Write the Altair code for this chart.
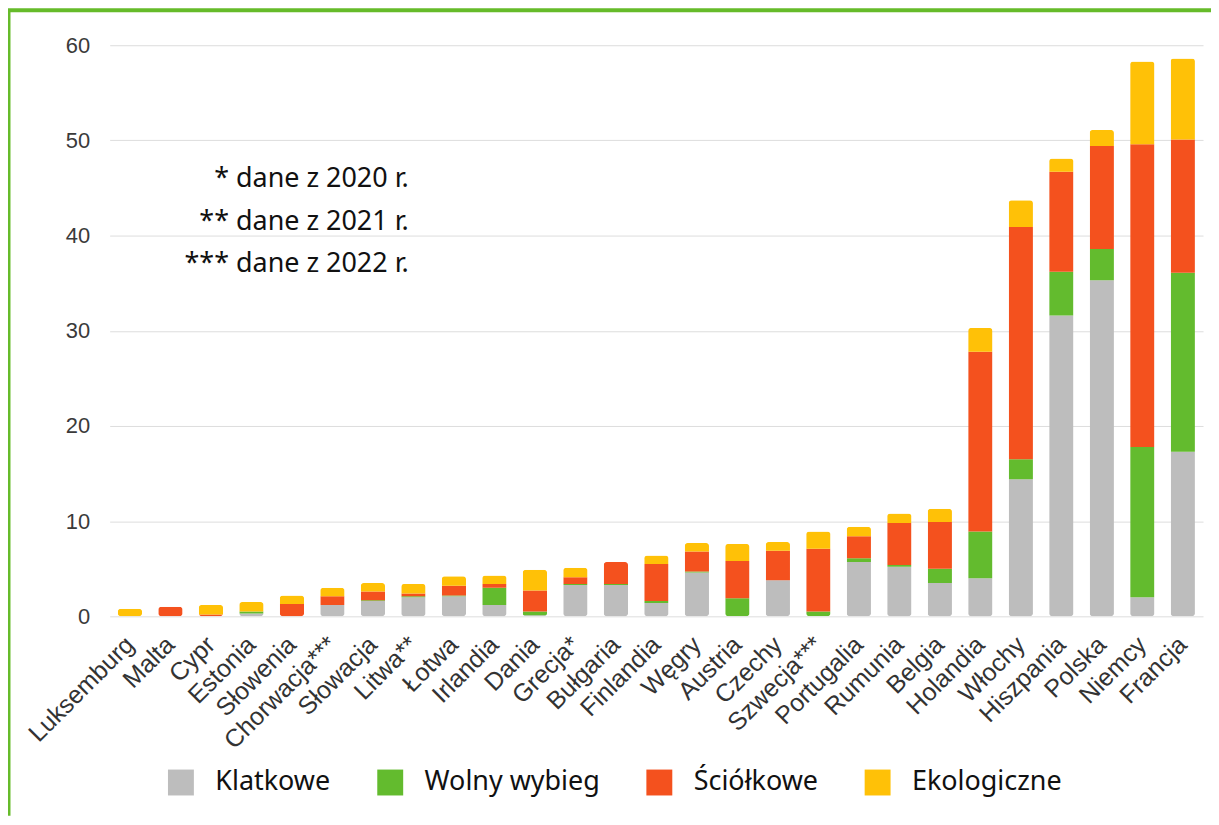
import altair as alt
import pandas as pd

countries = ["Luksemburg", "Malta", "Cypr", "Estonia", "Słowenia", "Chorwacja***",
             "Słowacja", "Litwa**", "Łotwa", "Irlandia", "Dania", "Grecja*", "Bułgaria",
             "Finlandia", "Węgry", "Austria", "Czechy", "Szwecja***", "Portugalia",
             "Rumunia", "Belgia", "Holandia", "Włochy", "Hiszpania", "Polska", "Niemcy",
             "Francja"]

klatkowe = [0, 0, 0, 0.3, 0, 1.2, 1.6, 2.0, 2.1, 1.2, 0.1, 3.3, 3.3, 1.4, 4.6, 0, 3.8,
            0, 5.7, 5.2, 3.5, 4.0, 14.4, 31.6, 35.3, 2.0, 17.3]
wolny = [0, 0, 0, 0.2, 0, 0, 0.1, 0.1, 0.1, 1.8, 0.4, 0.1, 0.1, 0.2, 0.1, 1.9, 0, 0.5,
         0.4, 0.2, 1.5, 4.9, 2.1, 4.6, 3.3, 15.8, 18.8]
sciolkowe = [0, 1.0, 0.2, 0, 1.3, 0.9, 0.9, 0.3, 1.0, 0.4, 2.2, 0.7, 2.3, 3.9, 2.1, 3.9,
             3.1, 6.6, 2.3, 4.4, 4.9, 18.9, 24.4, 10.5, 10.8, 31.8, 14.0]
ekologiczne = [0.8, 0, 1.0, 1.0, 0.9, 0.9, 0.9, 1.0, 1.0, 0.9, 2.2, 1.0, 0, 0.9, 0.9, 1.8,
               0.9, 1.8, 1.0, 1.0, 1.4, 2.5, 2.8, 1.4, 1.7, 8.7, 8.5]

categories = ["Klatkowe", "Wolny wybieg", "Ściółkowe", "Ekologiczne"]
colors = ["#BDBDBD", "#63BB2E", "#F4511E", "#FFC107"]
notes = ["* dane z 2020 r.", "** dane z 2021 r.", "*** dane z 2022 r."]
y_ticks = [0, 10, 20, 30, 40, 50, 60]

rows = []
for ci, (cat, series) in enumerate(zip(categories, [klatkowe, wolny, sciolkowe, ekologiczne])):
    for country, v in zip(countries, series):
        rows.append({"kraj": country, "kat": cat, "idx": ci, "v": v})
df = pd.DataFrame(rows)

W, H = 1097, 573
GREEN = "#66BB2A"

bars = alt.Chart(df).mark_bar(cornerRadius=3).encode(
    x=alt.X("kraj:N", sort=countries,
            scale=alt.Scale(paddingInner=0.4, paddingOuter=0.2),
            axis=alt.Axis(title=None, labelAngle=-45, labelAlign="right",
                          labelBaseline="middle", ticks=False, domain=False,
                          labelFont="Liberation Sans", labelFontSize=25,
                          labelColor="#333333", labelPadding=24, labelLimit=300)),
    y=alt.Y("v:Q", stack="zero",
            scale=alt.Scale(domain=[0, 60], nice=False),
            axis=alt.Axis(title=None, values=y_ticks, ticks=False, domain=False,
                          labelFont="Liberation Sans", labelFontSize=22,
                          labelColor="#3A3A3A", labelPadding=20,
                          grid=True, gridColor="#DDDDDD", gridWidth=1)),
    color=alt.Color("kat:N", scale=alt.Scale(domain=categories, range=colors),
                    legend=alt.Legend(orient="none", legendX=58, legendY=726,
                                      direction="horizontal", title=None,
                                      symbolType="square", symbolSize=676,
                                      symbolStrokeWidth=0, symbolOpacity=1,
                                      labelFont="Noto Sans", labelFontSize=27,
                                      labelColor="#111111", labelOffset=21,
                                      labelLimit=400, columnPadding=46)),
    order=alt.Order("idx:Q", sort="ascending"),
)

note_df = pd.DataFrame({"t": ["\n".join(notes)]})
note_text = alt.Chart(note_df).mark_text(
    align="right", baseline="top", font="Noto Sans", fontSize=27,
    lineHeight=43, lineBreak="\n", color="#111111"
).encode(x=alt.value(300), y=alt.value(121), text="t:N")

frame_df = pd.DataFrame({"a": [0]})
top_band = alt.Chart(frame_df).mark_rule(color=GREEN, strokeWidth=4).encode(
    x=alt.value(-102), x2=alt.value(W + 20), y=alt.value(-35))
left_line = alt.Chart(frame_df).mark_rule(color=GREEN, strokeWidth=3).encode(
    x=alt.value(-101), y=alt.value(-36), y2=alt.value(H + 200))

chart = alt.layer(bars, note_text, top_band, left_line).properties(
    width=W, height=H,
    autosize=alt.AutoSizeParams(type="none"),
    padding={"left": 102, "top": 36, "right": 8, "bottom": 200},
    background="white",
).configure_view(stroke=None)

chart.save("out.html", embed_options={"renderer": "svg", "actions": False})
